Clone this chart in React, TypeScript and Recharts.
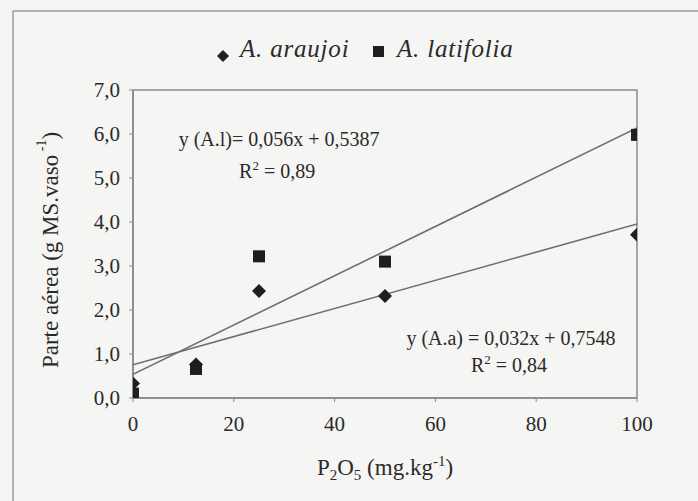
import React from 'react';
import { ComposedChart, Scatter, XAxis, YAxis, ReferenceArea, ReferenceDot } from 'recharts';

const araujoiPoints = [
  { x: 0, y: 0.33 },
  { x: 12.5, y: 0.76 },
  { x: 25, y: 2.43 },
  { x: 50, y: 2.32 },
  { x: 100, y: 3.71 },
];
const latifoliaPoints = [
  { x: 0, y: 0.1 },
  { x: 12.5, y: 0.66 },
  { x: 25, y: 3.22 },
  { x: 50, y: 3.1 },
  { x: 100, y: 5.98 },
];
const araujoiTrend = [
  { x: 0, y: 0.7548 },
  { x: 100, y: 3.9548 },
];
const latifoliaTrend = [
  { x: 0, y: 0.5387 },
  { x: 100, y: 6.1387 },
];
const xTicks = [0, 20, 40, 60, 80, 100];
const yTicks = [0, 1, 2, 3, 4, 5, 6, 7];

const FONT = '"Liberation Serif", "Times New Roman", serif';
const INK = '#2a2a2a';
const MARK = '#1e1e1e';

const Diamond = (p: any) => {
  const { cx, cy } = p;
  if (cx == null || cy == null) return <g />;
  const r = 7;
  return <path d={`M${cx},${cy - r}L${cx + r},${cy}L${cx},${cy + r}L${cx - r},${cy}Z`} fill={MARK} />;
};
const Square = (p: any) => {
  const { cx, cy } = p;
  if (cx == null || cy == null) return <g />;
  const s = 12;
  return <rect x={cx - s / 2} y={cy - s / 2} width={s} height={s} fill={MARK} />;
};
const NoShape = () => <g />;

const fmt = (v: number) => v.toFixed(1).replace('.', ',');

const EqText = (line: string) => (p: any) => {
  const { cx, cy } = p;
  return (
    <text x={cx} y={cy} textAnchor="middle" fontFamily={FONT} fontSize={20} fill={INK}>
      {line}
    </text>
  );
};

const R2Text = (val: string) => (p: any) => {
  const { cx, cy } = p;
  return (
    <text x={cx} y={cy} textAnchor="middle" fontFamily={FONT} fontSize={20} fill={INK}>
      R<tspan dy={-8} fontSize={13}>2</tspan>
      <tspan dy={8}> = {val}</tspan>
    </text>
  );
};

const YLabel = () => {
  const cx = 50;
  const cy = 250;
  return (
    <text
      x={cx}
      y={cy}
      transform={`rotate(-90 ${cx} ${cy})`}
      textAnchor="middle"
      dominantBaseline="central"
      fontFamily={FONT}
      fontSize={23}
      fill={INK}
    >
      Parte aérea (g MS.vaso
      <tspan dy={-9} fontSize={14}> -1</tspan>
      <tspan dy={9}>)</tspan>
    </text>
  );
};

const XLabel = (props: any) => {
  const vb = props.viewBox || {};
  const cx = (vb.x || 0) + (vb.width || 0) / 2;
  return (
    <text x={cx} y={475} textAnchor="middle" fontFamily={FONT} fontSize={23} fill={INK}>
      P<tspan dy={5} fontSize={15}>2</tspan>
      <tspan dy={-5}>O</tspan>
      <tspan dy={5} fontSize={15}>5</tspan>
      <tspan dy={-5}> (mg.kg</tspan>
      <tspan dy={-9} fontSize={15}>-1</tspan>
      <tspan dy={9}>)</tspan>
    </text>
  );
};

export default function App() {
  return (
    <div style={{ position: 'absolute', left: 0, top: 0, width: 698, height: 501, background: '#f5f5f3', overflow: 'hidden' }}>
      <svg width={698} height={501} style={{ position: 'absolute', left: 0, top: 0 }}>
        <line x1={13} y1={11} x2={698} y2={11} stroke="#9a9a9a" strokeWidth={1.5} />
        <line x1={13} y1={11} x2={13} y2={501} stroke="#9a9a9a" strokeWidth={1.5} />
        <path d="M223,50L229,56L223,62L217,56Z" fill={MARK} />
        <text x={240} y={57} fontFamily={FONT} fontStyle="italic" fontSize={25} letterSpacing={0.8} fill={INK}>
          A. araujoi
        </text>
        <rect x={373} y={46} width={11} height={11} fill={MARK} />
        <text x={397} y={57} fontFamily={FONT} fontStyle="italic" fontSize={25} letterSpacing={0.8} fill={INK}>
          A. latifolia
        </text>
      </svg>
      <div style={{ position: 'absolute', left: 0, top: 0 }}>
        <ComposedChart width={698} height={501} margin={{ top: 90, right: 61, bottom: 73, left: 0 }}>
          <XAxis
            type="number"
            dataKey="x"
            domain={[0, 100]}
            ticks={xTicks}
            allowDataOverflow
            height={30}
            axisLine={{ stroke: '#8a8a8a', strokeWidth: 1.5 }}
            tickLine={{ stroke: '#8a8a8a' }}
            tickSize={4}
            tickMargin={14}
            tick={{ fontFamily: FONT, fontSize: 21, fill: INK }}
            label={<XLabel />}
          />
          <YAxis
            type="number"
            dataKey="y"
            domain={[0, 7]}
            ticks={yTicks}
            allowDataOverflow
            width={133}
            tickFormatter={fmt}
            axisLine={{ stroke: '#8a8a8a', strokeWidth: 1.5 }}
            tickLine={{ stroke: '#8a8a8a' }}
            tickSize={4}
            tickMargin={9}
            tick={{ fontFamily: FONT, fontSize: 21, fill: INK }}
            label={<YLabel />}
          />
          <ReferenceArea x1={0} x2={100} y1={0} y2={7} fill="none" stroke="#8a8a8a" strokeWidth={1.5} />
          <Scatter
            data={latifoliaTrend}
            line={{ stroke: '#6e6e6e', strokeWidth: 1.6 }}
            shape={NoShape}
            isAnimationActive={false}
          />
          <Scatter
            data={araujoiTrend}
            line={{ stroke: '#6e6e6e', strokeWidth: 1.6 }}
            shape={NoShape}
            isAnimationActive={false}
          />
          <Scatter name="A. araujoi" data={araujoiPoints} shape={Diamond} isAnimationActive={false} />
          <Scatter name="A. latifolia" data={latifoliaPoints} shape={Square} isAnimationActive={false} />
          <ReferenceDot x={29} y={5.72} r={0} shape={EqText('y (A.l)= 0,056x + 0,5387')} />
          <ReferenceDot x={28.6} y={5.0} r={0} shape={R2Text('0,89')} />
          <ReferenceDot x={75} y={1.2} r={0} shape={EqText('y (A.a) = 0,032x + 0,7548')} />
          <ReferenceDot x={74.6} y={0.59} r={0} shape={R2Text('0,84')} />
        </ComposedChart>
      </div>
    </div>
  );
}
